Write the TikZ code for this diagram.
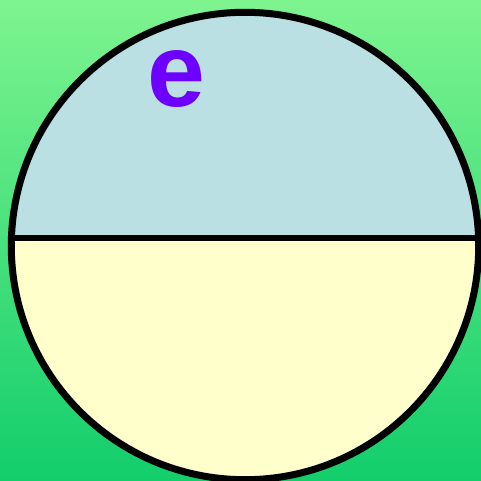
\documentclass[tikz,border=0pt]{standalone}
\usepackage{fontspec}
\setmainfont{Liberation Sans}
\definecolor{bgtop}{HTML}{7EF48F}
\definecolor{bgbot}{HTML}{12CE6B}
\definecolor{upperc}{HTML}{BAE0E3}
\definecolor{lowerc}{HTML}{FFFFCC}
\definecolor{epurple}{HTML}{6D00FF}
\tikzset{rim/.style={line width=7pt,draw=black},chord/.style={line width=6pt,draw=black}}
\begin{document}
\begin{tikzpicture}[x=1pt,y=1pt]
\useasboundingbox (0,0) rectangle (481,480);
\shade[top color=bgtop,bottom color=bgbot] (0,0) rectangle (481,480);
\begin{scope}
\clip (245,234) circle (233.7);
\fill[upperc] (0,241.7) rectangle (481,480);
\fill[lowerc] (0,0) rectangle (481,241.7);
\end{scope}
\coordinate (cl) at (11.43,241.7);
\coordinate (cr) at (478.57,241.7);
\draw[chord] (cl) -- (cr);
\draw[rim] (245,234) circle (233.7);
\node[inner sep=0pt,text=epurple,font=\bfseries\fontsize{104}{110}\selectfont] (e) at (176,401) {e};
\end{tikzpicture}
\end{document}
